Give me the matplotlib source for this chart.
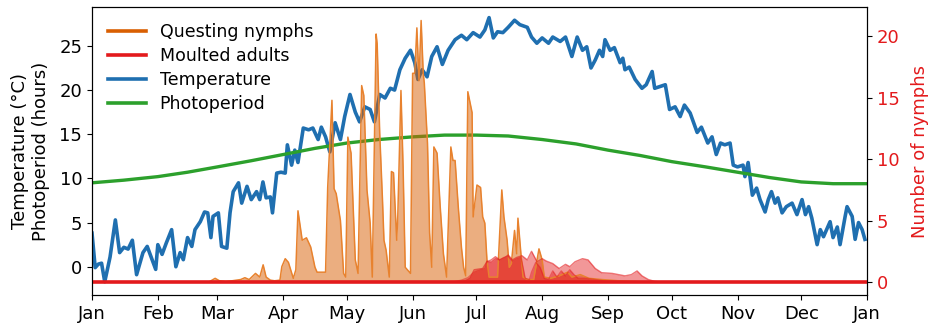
import matplotlib.pyplot as plt
from matplotlib.lines import Line2D

# day of year -> values
temp_days = [0, 1.5, 3, 4.5, 6, 8.5, 11, 13, 15, 17, 19, 21, 24, 26, 28, 30, 31, 33, 35, 37.5,
             39.5, 41.5, 43, 45, 47, 48.5, 51, 53, 54.5, 56, 57, 59.5, 61, 63.5, 65, 66.5, 69,
             70.5, 73, 75, 77.5, 79, 80.5, 82, 84, 85, 87, 89, 91, 92, 94, 95.5, 97, 99.5, 102,
             104, 106.5, 108, 110, 112, 114.5, 117, 119, 121.5, 124, 126, 128.5, 131, 133,
             135.5, 138, 140.5, 142.5, 145, 147.5, 150, 152, 153.5, 155.5, 157.8, 160, 162.5,
             165, 167.7, 171, 174, 176.5, 179.5, 182.7, 185, 187, 189, 191, 193.5, 196, 199,
             201.5, 205, 207, 209.5, 212, 215, 217, 220.5, 223, 226, 228.5, 231, 233, 235, 237,
             239, 240.5, 241.6, 244, 246, 248.7, 250, 251, 253, 255.8, 259, 261, 263.8, 265,
             267.5, 270, 272, 274.6, 277, 279, 281.7, 285, 287, 290, 292, 294, 296, 298, 300.5,
             302, 304, 306.6, 307.5, 309, 311, 313, 314.6, 317, 318.5, 320, 321.7, 323, 325,
             327, 329.7, 332, 334.4, 336, 337.5, 339, 341.5, 343, 344.5, 347.6, 349, 351, 352.3,
             354.7, 355.6, 358, 359.4, 361, 362.7, 364]
temp_values = [3.8, -0.1, 0.3, 0.4, -1.7, 1.1, 5.3, 1.6, 2.2, 2.0, 3.0, -0.9, 1.6, 2.3, 1.0,
               -0.3, 2.5, 1.4, 2.7, 4.2, 0.0, 1.6, 0.8, 3.3, 2.3, 4.2, 5.1, 6.2, 6.1, 3.3, 5.7,
               6.1, 2.3, 2.1, 6.1, 8.5, 9.5, 7.2, 9.1, 7.6, 8.5, 7.6, 9.6, 7.8, 7.9, 6.1, 10.6,
               10.7, 10.6, 13.8, 11.5, 13.2, 11.8, 15.7, 15.5, 15.7, 14.4, 15.8, 14.7, 13.0,
               16.3, 14.4, 17.0, 19.5, 17.5, 16.4, 18.1, 17.8, 16.4, 19.5, 19.1, 20.2, 20.0,
               22.3, 23.6, 24.5, 23.1, 21.2, 22.3, 21.5, 23.8, 24.9, 22.9, 24.5, 25.7, 26.2,
               25.7, 26.5, 26.0, 26.8, 28.2, 25.9, 26.6, 26.5, 27.1, 27.9, 27.4, 27.1, 26.0,
               25.3, 25.9, 25.3, 26.0, 25.5, 26.0, 23.8, 26.0, 24.5, 24.9, 22.5, 23.4, 24.5,
               23.8, 25.7, 24.5, 24.8, 23.1, 23.6, 22.3, 22.6, 21.2, 20.2, 20.6, 22.1, 20.2,
               20.4, 20.6, 17.8, 18.1, 17.0, 18.3, 17.4, 15.2, 15.8, 14.0, 14.7, 12.7, 14.0,
               13.8, 14.0, 11.5, 11.3, 11.5, 10.2, 11.8, 8.1, 8.9, 7.6, 6.2, 7.6, 8.5, 7.2, 7.8,
               6.1, 6.8, 7.2, 5.9, 7.6, 5.9, 6.8, 5.5, 2.5, 4.2, 3.4, 5.1, 3.3, 4.5, 2.5, 5.7,
               6.8, 5.7, 3.1, 5.0, 4.2, 3.1]

photo_days = [0, 15, 31, 45, 59, 75, 90, 105, 120, 135, 151, 166, 181, 196, 212, 228, 243,
              258, 273, 289, 304, 319, 334, 349, 365]
photo_values = [9.5, 9.8, 10.2, 10.7, 11.3, 12.0, 12.7, 13.4, 14.0, 14.4, 14.7, 14.9, 14.9,
                14.8, 14.4, 13.9, 13.2, 12.6, 11.9, 11.3, 10.7, 10.1, 9.6, 9.4, 9.4]

nymph_days = [0, 55, 58, 60, 63, 66, 70, 72, 74, 77, 79, 80.6, 82, 84, 86, 88.5, 89.4, 91, 92.5,
              94.8, 96, 97, 99, 101, 103, 105, 106, 108, 110, 111, 113, 114, 115, 117, 118.5,
              119.5, 120.5, 122, 123, 124, 125.3, 127, 128, 129.5, 131, 132, 133.8, 134.3, 135.5,
              136.8, 137.5, 138.5, 140, 141, 142, 143.5, 144, 145.5, 146.5, 147.5, 150, 151,
              152, 153, 154, 155, 156, 156.5, 158, 159, 160, 161, 162.5, 164, 165.5, 167, 169,
              170, 171, 172.5, 174, 175, 176, 177, 179, 179.5, 181.3, 183, 184, 185, 186, 187,
              191, 193, 194, 195.5, 196.5, 197.5, 199, 200, 200.6, 202, 203, 205, 208, 210.5,
              212, 213, 216, 220, 224, 226, 230, 234, 240, 248, 255, 262, 365]
nymph_values = [0, 0, 0.3, 0.1, 0.05, 0.1, 0.2, 0.35, 0.2, 0.7, 0.4, 1.4, 0.4, 0.15, 0.1, 0.15,
                1.25, 1.9, 1.6, 0.3, 1.0, 5.8, 3.4, 3.6, 2.85, 1.2, 0.8, 0.8, 0.8, 7.7, 14.8,
                7.6, 7.2, 5.0, 0.7, 0.4, 11.8, 10.5, 6.1, 1.8, 0.7, 16.0, 15.2, 7.5, 4.8, 0.4,
                20.2, 19.4, 12.1, 6.7, 3.4, 2.6, 0.4, 9.0, 8.9, 3.4, 5.3, 15.6, 9.4, 1.2, 0.7,
                17.0, 17.0, 20.7, 16.4, 21.3, 17.0, 16.2, 11.3, 4.0, 1.2, 11.0, 10.5, 6.1, 2.3,
                0.4, 11.0, 9.9, 9.9, 6.1, 2.8, 1.2, 0.5, 15.5, 13.8, 5.3, 7.9, 7.7, 5.3, 4.8,
                1.8, 0.4, 0.4, 7.5, 5.3, 3.4, 1.2, 1.5, 4.2, 2.3, 5.2, 2.3, 0.4, 0.2, 0.2, 2.7,
                1.8, 0.4, 0.3, 0.5, 0.8, 0.4, 0.6, 0.3, 0.2, 0.1, 0.05, 0, 0]

adults_a_days = [0, 170, 174, 177, 180, 183, 185, 186, 188, 190, 192, 194, 196, 198, 200, 202,
                 203, 204, 206, 207, 209, 211, 213, 215, 217, 219, 221, 223, 225, 227, 229, 233,
                 237, 241, 245, 250, 365]
adults_a_values = [0, 0, 0.15, 0.35, 0.8, 1.0, 1.1, 1.7, 1.6, 1.9, 1.8, 2.0, 2.1, 1.7, 1.9, 2.0,
                   1.2, 0.3, 0.2, 0.8, 1.6, 1.2, 0.3, 0.2, 0.9, 0.4, 0.9, 0.5, 1.0, 0.6, 0.3, 0.3,
                   0.2, 0.1, 0.05, 0, 0]

adults_b_days = [0, 172, 176, 178, 180, 184, 186, 188, 190, 192, 194.5, 196, 198, 200, 202.5,
                 205, 207, 209.6, 212, 214, 217, 220, 223, 225, 227.5, 231, 233.6, 237, 240, 245,
                 251, 254, 256.7, 259, 262, 265, 268, 365]
adults_b_values = [0, 0, 0.1, 0.3, 1.0, 1.1, 1.65, 1.8, 2.06, 1.8, 2.0, 2.2, 1.8, 2.0, 2.14,
                   1.8, 2.5, 1.65, 1.9, 1.7, 1.5, 1.1, 1.44, 1.25, 1.65, 1.9, 1.8, 1.1, 0.76, 0.7,
                   0.5, 0.6, 0.9, 0.5, 0.2, 0.05, 0, 0]

adults_line_days = [0, 365]
adults_line_values = [0, 0]

month_days = [0, 31, 59, 90, 120, 151, 181, 212, 243, 273, 304, 334, 365]
month_labels = ['Jan', 'Feb', 'Mar', 'Apr', 'May', 'Jun', 'Jul', 'Aug', 'Sep', 'Oct', 'Nov',
                'Dec', 'Jan']

orange = '#d95f02'
red = '#e31a1c'
blue = '#1f6fb0'
green = '#2ca02c'
fs = 13

fig = plt.figure(figsize=(9.35, 3.32), dpi=100)
ax = fig.add_axes([0.0984, 0.1114, 0.8289, 0.8675])

ax.plot(temp_days, temp_values, color=blue, lw=2.6)
ax.plot(photo_days, photo_values, color=green, lw=2.4)
ax.set_xlim(0, 365)
ax.set_ylim(-3.2, 29.4)
ax.set_yticks([0, 5, 10, 15, 20, 25])
ax.set_xticks(month_days)
ax.set_xticklabels(month_labels)
ax.tick_params(labelsize=fs)
ax.set_ylabel('Temperature (°C)\nPhotoperiod (hours)', fontsize=fs, labelpad=7)

ax2 = ax.twinx()
ax2.fill_between(nymph_days, nymph_values, color=orange, alpha=0.5, lw=0)
ax2.plot(nymph_days, nymph_values, color='#e8822e', lw=1.1)
ax2.fill_between(adults_b_days, adults_b_values, color=red, alpha=0.45, lw=0)
ax2.plot(adults_b_days, adults_b_values, color=red, alpha=0.6, lw=1)
ax2.fill_between(adults_a_days, adults_a_values, color=red, alpha=0.45, lw=0)
ax2.plot(adults_a_days, adults_a_values, color=red, alpha=0.5, lw=1)
ax2.plot(adults_line_days, adults_line_values, color=red, lw=2.6)
ax2.set_ylim(-1.06, 22.4)
ax2.set_yticks([0, 5, 10, 15, 20])
ax2.tick_params(labelsize=fs, labelcolor=red)
ax2.set_ylabel('Number of nymphs', fontsize=fs, color=red, labelpad=8)

handles = [Line2D([], [], color=orange, lw=2.6),
           Line2D([], [], color=red, lw=2.6),
           Line2D([], [], color=blue, lw=2.6),
           Line2D([], [], color=green, lw=2.6)]
labels = ['Questing nymphs', 'Moulted adults', 'Temperature', 'Photoperiod']
ax2.legend(handles, labels, loc='upper left', frameon=False, fontsize=12.5,
           handlelength=2.2, borderaxespad=0.5, labelspacing=0.35)

fig.savefig('out.png', dpi=100)
